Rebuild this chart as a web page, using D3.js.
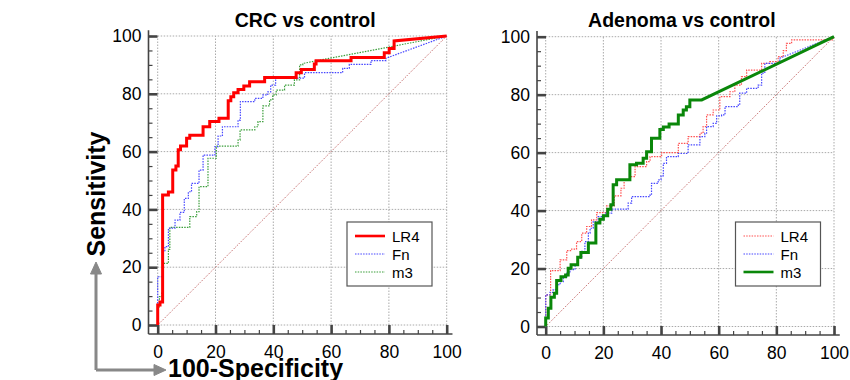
<!DOCTYPE html>
<html>
<head>
<meta charset="utf-8">
<script src="https://cdn.jsdelivr.net/npm/d3@7/dist/d3.min.js"></script>
<style>
  body { margin: 0; background: #fff; }
  text { font-family: "Liberation Sans", Arial, Helvetica, sans-serif; }
</style>
</head>
<body>
<svg id="chart" width="850" height="380"></svg>
<script>
// ---- data ----
const majorTicks = [0, 20, 40, 60, 80, 100];
const tickLabels = ['0', '20', '40', '60', '80', '100'];
const minorTicks = d3.range(0, 101, 5);
const seriesNames = ['LR4', 'Fn', 'm3'];
const panelTitles = ['CRC vs control', 'Adenoma vs control'];

// ROC steps: [100-specificity, sensitivity] at each rise
const crcLR4 = [[0,0],[0,6.9],[0.8,8],[1.7,45],[3.7,46],[5.2,53.6],[6.3,55],[7.1,60.6],[7.9,61.9],
  [10,64.6],[11.1,65.7],[15.7,68.6],[18,70.4],[21.2,71.5],[24.4,77.6],[25.3,79],[26.3,80.4],
  [27.8,81.5],[29.8,82.7],[31.8,84.2],[37,85.6],[47.9,87.3],[49.7,88.4],[54.2,90.3],[54.8,91.4],
  [66.9,92.6],[78.4,94.2],[80.1,95.7],[81.8,98.3],[100,100]];
const crcFn = [[0,0],[0,16.7],[1.9,25.4],[2.5,27.1],[3.7,33.5],[6,36.3],[7.7,39],[9.2,43.8],
  [10.6,46.1],[11.7,49],[14.3,53.6],[15.7,58.8],[19.8,61.7],[20.9,65.4],[22.4,68.6],[27.8,70.9],
  [28.6,77.3],[33.6,78.4],[36.4,79.6],[38.1,80.7],[39.1,83],[40.8,85.4],[50.8,87.3],[64,88.8],
  [66.3,90.2],[73.8,91.5],[79,92.3],[100,100]];
const crcM3 = [[0,0],[0,6.3],[0.6,9.8],[1.4,11.5],[1.9,21.3],[3.7,26.2],[4.2,33.8],[11.1,37.5],
  [13.5,39.2],[14.3,47.9],[17.4,57.7],[20.3,61.9],[27.8,64],[28.5,67.5],[33.6,68.6],[34.7,70.4],
  [36.4,75.8],[38.7,77.9],[39.8,79.6],[41,81.3],[43.9,83],[47.3,84.8],[49.1,90],[50.2,90.5],[100,100]];

const adenLR4 = [[0,0],[0,10.9],[1.7,19.3],[5,23],[7.3,26.2],[9,26.7],[10.7,29.3],[12.5,32.2],
  [14.2,34.5],[15.9,36.8],[17.7,39.3],[21.1,41.6],[23.8,45.1],[26.1,47.7],[27.2,50.6],[29.2,51.7],
  [31,55.2],[35,56.9],[36.2,58.6],[40.2,60],[46,63.2],[49.4,65.5],[53.5,66.7],[54.6,69],[55.8,73],
  [58.1,74.7],[60.4,79.3],[63.9,81],[65.6,83.3],[67.9,86.2],[69.7,88.5],[74.9,90.8],[77.7,91.4],
  [80.6,93.1],[82.4,95.2],[83.5,97.7],[85.3,98.9],[99.7,99.3],[100,100]];
const adenFn = [[0,0],[0,10.9],[1.5,11.8],[2.6,12.7],[3.8,14.4],[5,15.5],[6.1,17.2],[7.3,18.4],
  [8.4,19.6],[10.2,21.3],[11.3,23.6],[12.5,25.9],[13.6,29.3],[14.8,32.2],[15.4,33.9],[16.5,36.2],
  [18.2,37.9],[20.6,39.1],[22.9,40.5],[28.6,42.6],[29.8,44.8],[36.2,45.4],[36.7,49.4],[39,50.6],
  [40,52],[40.8,56.3],[41.9,58.6],[46,59.7],[49.4,62.7],[53.5,65.5],[55.2,66.7],[55.8,69],
  [58.1,70.1],[59.3,72.7],[61,73],[62.2,75.9],[66.8,76.5],[67.3,80.5],[69.7,82.2],[73.7,83.3],
  [74.9,87.4],[76,90.8],[81.2,92.6],[100,100]];
const adenM3 = [[0,0],[0,2.9],[0.9,6.3],[1.8,10.1],[3,11.5],[3.8,15.9],[5.3,17.2],[6.9,17.8],
  [7.8,20.1],[8.8,21.3],[11.1,23.9],[12.2,25.5],[14.8,28.8],[17.4,35.7],[18.8,37],[20,38.2],
  [21.5,40.5],[22.6,42],[23.4,48.9],[24.6,50.6],[29.2,55.8],[31.5,56.3],[33.8,58.1],[35,60.3],
  [36.7,65],[39.6,68],[40.8,68.8],[42.8,69.9],[46,73],[47.7,74.7],[48.8,75.8],[50,78.2],
  [54.1,78.2],[100,100]];
const diagonal = [[0,0],[100,100]];

// ---- styles ----
const thickRed   = { stroke: '#ff0000', width: 3,   dash: null };
const thinRed    = { stroke: '#ff5050', width: 1.2, dash: '1.5,1.2' };
const thinBlue   = { stroke: '#4646ff', width: 1.2, dash: '1.5,1.2' };
const thinGreen  = { stroke: '#3a9e3a', width: 1.2, dash: '1.5,1.2' };
const thickGreen = { stroke: '#0a870a', width: 3,   dash: null };

const svg = d3.select('#chart');

function drawPanel(p) {
  const x = d3.scaleLinear().domain([0, 100]).range([p.left, p.right]);
  const y = d3.scaleLinear().domain([0, 100]).range([p.bottom, p.top]);
  const g = svg.append('g');

  // grid
  g.selectAll('.vgrid').data(majorTicks).enter().append('line')
    .attr('x1', d => x(d)).attr('x2', d => x(d))
    .attr('y1', y(0)).attr('y2', y(100))
    .attr('stroke', '#aaa').attr('stroke-width', 1).attr('stroke-dasharray', '1.5,1.5');
  g.selectAll('.hgrid').data(majorTicks).enter().append('line')
    .attr('y1', d => y(d)).attr('y2', d => y(d))
    .attr('x1', x(0)).attr('x2', x(100))
    .attr('stroke', '#aaa').attr('stroke-width', 1).attr('stroke-dasharray', '1.5,1.5');

  // axes
  const yMinor = g.append('g').attr('transform', `translate(${p.axisX},0)`)
    .call(d3.axisLeft(y).tickValues(minorTicks).tickSize(-4).tickFormat(''));
  const yMajor = g.append('g').attr('transform', `translate(${p.axisX},0)`)
    .call(d3.axisLeft(y).tickValues(majorTicks).tickSizeInner(-9).tickSizeOuter(0).tickPadding(7)
      .tickFormat((d, i) => tickLabels[i]));
  const xMinor = g.append('g').attr('transform', `translate(0,${p.axisY})`)
    .call(d3.axisBottom(x).tickValues(minorTicks).tickSize(-4).tickFormat(''));
  const xMajor = g.append('g').attr('transform', `translate(0,${p.axisY})`)
    .call(d3.axisBottom(x).tickValues(majorTicks).tickSizeInner(-9).tickSizeOuter(0).tickPadding(12)
      .tickFormat((d, i) => tickLabels[i]));

  [yMinor, yMajor, xMinor, xMajor].forEach(a => a.select('.domain').remove());
  [yMinor, xMinor].forEach(a => a.selectAll('line').attr('stroke', '#444').attr('stroke-width', 1.2));
  [yMajor, xMajor].forEach(a => {
    a.selectAll('line').attr('stroke', '#444').attr('stroke-width', 2.6);
    a.selectAll('text').attr('fill', '#000').attr('font-size', 17.5)
      .attr('font-family', '"Liberation Sans", Arial, sans-serif');
  });

  g.append('line').attr('x1', p.axisX).attr('x2', p.axisX)
    .attr('y1', y(102)).attr('y2', p.axisY)
    .attr('stroke', '#444').attr('stroke-width', 1.6);
  g.append('line').attr('x1', p.axisX).attr('x2', x(102))
    .attr('y1', p.axisY).attr('y2', p.axisY)
    .attr('stroke', '#444').attr('stroke-width', 1.6);

  // curves
  const stepLine = d3.line().x(d => x(d[0])).y(d => y(d[1])).curve(d3.curveStepAfter);
  const rocPath = pts => {
    const last = pts[pts.length - 1];
    return stepLine(pts.slice(0, -1)) + `L${x(last[0])},${y(last[1])}`;
  };

  g.append('path')
    .attr('d', d3.line().x(d => x(d[0])).y(d => y(d[1]))(diagonal))
    .attr('fill', 'none').attr('stroke', '#b03838').attr('stroke-width', 0.9)
    .attr('stroke-dasharray', '1,1.5');

  p.order.forEach(i => {
    const s = p.styles[i];
    g.append('path')
      .attr('d', rocPath(p.series[i]))
      .attr('fill', 'none')
      .attr('stroke', s.stroke)
      .attr('stroke-width', s.width)
      .attr('stroke-dasharray', s.dash)
      .attr('stroke-linejoin', 'miter');
  });

  // title
  g.append('text')
    .attr('x', (p.left + p.right) / 2 + p.titleShift).attr('y', 27)
    .attr('text-anchor', 'middle').attr('font-weight', 'bold').attr('font-size', 19.5)
    .text(p.title);

  // legend
  const lg = g.append('g').attr('transform', `translate(${p.legX},${p.legY})`);
  lg.append('rect').attr('width', 85).attr('height', 64)
    .attr('fill', '#fff').attr('stroke', '#555').attr('stroke-width', 1.2);
  seriesNames.forEach((name, i) => {
    const s = p.styles[i];
    const yy = 14 + i * 18;
    lg.append('line').attr('x1', 8).attr('x2', 38).attr('y1', yy).attr('y2', yy)
      .attr('stroke', s.stroke).attr('stroke-width', s.width === 3 ? 2.6 : 1.2)
      .attr('stroke-dasharray', s.dash);
    lg.append('text').attr('x', 45).attr('y', yy + 5.5).attr('font-size', 15).text(name);
  });
}

drawPanel({
  title: panelTitles[0], titleShift: 3,
  left: 157.7, right: 446.7, top: 36, bottom: 325, axisX: 148.5, axisY: 334,
  series: [crcLR4, crcFn, crcM3], styles: [thickRed, thinBlue, thinGreen],
  order: [2, 1, 0], legX: 347, legY: 222
});
drawPanel({
  title: panelTitles[1], titleShift: -8,
  left: 545.7, right: 834, top: 36.7, bottom: 326.5, axisX: 537, axisY: 335,
  series: [adenLR4, adenFn, adenM3], styles: [thinRed, thinBlue, thickGreen],
  order: [0, 1, 2], legX: 735.5, legY: 222
});

// axis names with arrows
svg.append('text')
  .attr('transform', 'translate(105,194) rotate(-90)')
  .attr('text-anchor', 'middle').attr('font-weight', 'bold').attr('font-size', 25)
  .text('Sensitivity');
svg.append('text')
  .attr('x', 168).attr('y', 377)
  .attr('font-weight', 'bold').attr('font-size', 25)
  .text('100-Specificity');

const arrow = svg.append('g').attr('fill', '#888').attr('stroke', '#888');
arrow.append('path').attr('d', 'M96,370 L96,272 M96,370 L156,370')
  .attr('fill', 'none').attr('stroke-width', 3);
arrow.append('path').attr('d', 'M96,262 L90.5,274 L101.5,274 Z').attr('stroke-width', 1);
arrow.append('path').attr('d', 'M166,370 L154,364.5 L154,375.5 Z').attr('stroke-width', 1);
</script>
</body>
</html>
